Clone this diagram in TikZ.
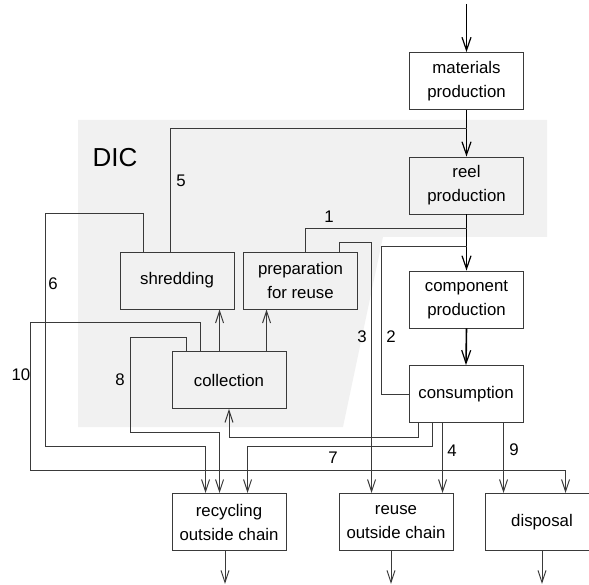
\documentclass[tikz,border=0pt]{standalone}
\usepackage{fontspec}
\setmainfont{Liberation Sans}
\usetikzlibrary{arrows.meta}
\definecolor{dicgray}{HTML}{F1F1F1}
\definecolor{edge}{HTML}{3A3A3A}
\begin{document}
\begin{tikzpicture}[x=1pt,y=-1pt,
  box/.style={draw=edge,line width=0.9pt,rectangle,minimum width=114pt,minimum height=57pt,
    inner sep=0pt,align=center,font=\fontsize{16.8}{24}\selectfont},
  tip/.style={-{Straight Barb[length=12pt,width=8pt,line width=1pt]}},
  conn/.style={draw=edge,line width=1pt},
  main/.style={draw=black,line width=1.6pt,-{Straight Barb[length=13pt,width=9pt,line width=1.2pt]}},
  num/.style={font=\fontsize{16.8}{20}\selectfont,inner sep=0pt}]
\useasboundingbox (0,0) rectangle (589,585);
\clip (0,0) rectangle (589,585);

% shaded DIC region
\fill[dicgray] (78,120) -- (547,120) -- (547,237) -- (383,237) -- (343,427) -- (78,427) -- cycle;
\node[font=\fontsize{26}{30}\selectfont,inner sep=0pt] (dic) at (115,158) {DIC};

% process boxes
\node[box] (mat)   at (466.5,81)   {materials\\production};
\node[box] (reel)  at (466.5,185.5) {reel\\production};
\node[box] (comp)  at (466.5,299.5) {component\\production};
\node[box] (cons)  at (466,394)    {consumption};
\node[box] (shred) at (177,280.5)  {shredding};
\node[box] (prep)  at (300.5,280.5) {preparation\\for reuse};
\node[box] (coll)  at (229,380)    {collection};
\node[box,fill=white] (recyc) at (229,522) {recycling\\outside chain};
\node[box,fill=white] (reuse) at (396,522) {reuse\\outside chain};
\node[box,fill=white] (disp)  at (542,522) {disposal};

% junctions on the main line
\coordinate (src) at (466.5,4);
\coordinate (j5) at (466.5,129);
\coordinate (j1) at (466.5,229);
\coordinate (j2) at (466.5,247);

% main production chain
\draw[main] (src) -- (mat.north);
\draw[main] (mat.south) -- (reel.north);
\draw[main] (reel.south) -- (comp.north);
\draw[main] (comp.south) -- (cons.north);

% return flows into the main line
\draw[conn] ([xshift=51pt]shred.north west) |- (j5);
\draw[conn] ([xshift=62pt]prep.north west) |- (j1);
\draw[conn] (j2) -| ([xshift=-27pt]cons.west) -- (cons.west);

% 6: shredding to recycling
\draw[conn,tip] ([xshift=24pt]shred.north west) -- ++(0,-38) -| (45,446) -| ([xshift=34pt]recyc.north west);
% 3: preparation to reuse outside chain
\draw[conn,tip] ([xshift=96pt]prep.north west) -- ++(0,-9) -| ([xshift=33pt]reuse.north west);

% collection to shredding and preparation
\draw[conn,tip] ([xshift=48pt]coll.north west) coordinate (c1) -- (c1 |- shred.south);
\draw[conn,tip] ([xshift=95pt]coll.north west) coordinate (c2) -- (c2 |- prep.south);

% 10: collection to disposal
\draw[conn,tip] ([xshift=29pt]coll.north west) -- ++(0,-29) -| (30,470) -| ([xshift=81pt]disp.north west);
% 8: collection to recycling
\draw[conn,tip] ([xshift=15pt]coll.north west) -- ++(0,-14) -| (130,432) -| ([xshift=48pt]recyc.north west);

% flows out of consumption
\draw[conn,tip] ([xshift=10pt]cons.south west) -- ++(0,15) -| (coll.south);
\draw[conn,tip] ([xshift=24pt]cons.south west) -- ++(0,24) -| ([xshift=76pt]recyc.north west);
\draw[conn,tip] ([xshift=34pt]cons.south west) coordinate (c4) -- (c4 |- reuse.north);
\draw[conn,tip] ([xshift=95pt]cons.south west) coordinate (c9) -- (c9 |- disp.north);

% outputs
\draw[conn,tip] ([xshift=-4pt]recyc.south) -- ++(0,33);
\draw[conn,tip] ([xshift=-5pt]reuse.south) -- ++(0,33);
\draw[conn,tip] (disp.south) -- ++(0,33);

% flow numbers
\node[num] (n1) at (329,217) {1};
\node[num] (n2) at (391,337) {2};
\node[num] (n3) at (362,337) {3};
\node[num] (n4) at (452,451) {4};
\node[num] (n5) at (181,181) {5};
\node[num] (n6) at (53,284) {6};
\node[num] (n7) at (333,458) {7};
\node[num] (n8) at (120,380) {8};
\node[num] (n9) at (514,450) {9};
\node[num] (n10) at (21,375) {10};
\end{tikzpicture}
\end{document}
